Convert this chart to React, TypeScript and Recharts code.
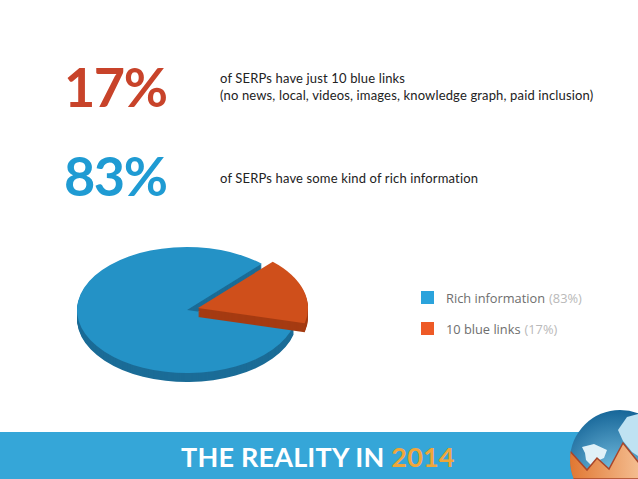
import { PieChart, Pie, Cell, Legend, Sector } from "recharts";

const sliceNames = ["Rich information", "10 blue links"];
const sliceValues = [83, 17];
const sliceColors = ["#2492c6", "#cf4f1b"];
const sideColors = ["#1b6c97", "#a53b12"];
const legendColors = ["#2ba3dc", "#ee5a26"];
const sliceShift = [
  [0, 0],
  [11, -2],
];

const stats = [
  { value: "17%", color: "#c8432a", top: 54, textTop: 70, lines: ["of SERPs have just 10 blue links", "(no news, local, videos, images, knowledge graph, paid inclusion)"] },
  { value: "83%", color: "#1f9bd3", top: 143, textTop: 170, lines: ["of SERPs have some kind of rich information"] },
];

const pieData = sliceNames.map((name, i) => ({ name, value: sliceValues[i] }));

const FONT = "Lato, sans-serif";
const SQUASH = 0.5727;
const DEPTH = 9;

// the pie is tilted by squashing each sector, the side wall is the same sector repeated downwards
function TiltedSector(props: any) {
  const i = sliceNames.indexOf(props.name ?? props.payload?.name);
  const [dx, dy] = sliceShift[i];
  const cy = props.cy;
  const wall = [];
  for (let d = DEPTH; d > 0; d--) {
    wall.push(
      <g key={d} transform={`translate(0 ${d / SQUASH})`}>
        <Sector {...props} fill={sideColors[i]} stroke="none" />
      </g>
    );
  }
  return (
    <g transform={`translate(${dx} ${dy + cy}) scale(1 ${SQUASH}) translate(0 ${-cy})`}>
      {wall}
      <Sector {...props} fill={sliceColors[i]} stroke="none" />
    </g>
  );
}

function ChartLegend({ payload }: any) {
  return (
    <div style={{ fontFamily: "'Open Sans', sans-serif", fontSize: 12.8 }}>
      {(payload ?? []).map((p: any) => {
        const i = sliceNames.indexOf(p.value);
        return (
          <div key={p.value} style={{ display: "flex", alignItems: "center", height: 31 }}>
            <span style={{ width: 13, height: 13, background: legendColors[i], marginRight: 12 }} />
            <span style={{ color: "#6e6e6e" }}>{p.value}</span>
            <span style={{ color: "#b9b9b9", marginLeft: 4 }}>({sliceValues[i]}%)</span>
          </div>
        );
      })}
    </div>
  );
}

function Globe() {
  return (
    <svg width={638} height={479} style={{ position: "absolute", left: 0, top: 0 }}>
      <defs>
        <radialGradient id="sea" cx="0.45" cy="0.65" r="0.7">
          <stop offset="0" stopColor="#7cc4e4" />
          <stop offset="1" stopColor="#0f5f93" />
        </radialGradient>
        <linearGradient id="ground" x1="0" y1="0" x2="1" y2="0">
          <stop offset="0" stopColor="#e0752f" />
          <stop offset="1" stopColor="#f4bd90" />
        </linearGradient>
        <clipPath id="ball">
          <circle cx={620} cy={460} r={50} />
        </clipPath>
      </defs>
      <circle cx={620} cy={460} r={50} fill="url(#sea)" />
      <g clipPath="url(#ball)">
        <path d="M582 447 L594 444 L607 450 L604 458 L597 461 L593 467 L586 460 L585 453 Z" fill="#e0f1f8" />
        <path d="M618 430 L627 417 L638 414 L638 456 L632 452 L623 441 Z" fill="#bfe2f2" />
        <path d="M568 449 L587 470 L597 458 L609 469 L623 443 L639 463 L639 479 L568 479 Z" fill="url(#ground)" stroke="#a8452a" strokeWidth={1.5} />
      </g>
    </svg>
  );
}

export default function App() {
  return (
    <div style={{ position: "absolute", left: 0, top: 0, width: 638, height: 479, background: "#fff", overflow: "hidden", fontFamily: FONT }}>
      {stats.map(s => (
        <div key={s.value}>
          <div style={{ position: "absolute", left: 64, top: s.top, fontSize: 54, lineHeight: "66px", fontWeight: 700, color: s.color, letterSpacing: -1.5 }}>
            {s.value}
          </div>
          <div style={{ position: "absolute", left: 220, top: s.textTop, fontSize: 13, lineHeight: "17px", color: "#222", whiteSpace: "nowrap", letterSpacing: 0.15 }}>
            {s.lines.map(l => (
              <div key={l}>{l}</div>
            ))}
          </div>
        </div>
      ))}

      <PieChart width={638} height={479} margin={{ top: 0, right: 0, bottom: 0, left: 0 }} style={{ position: "absolute", left: 0, top: 0 }}>
        <Pie
          data={pieData}
          dataKey="value"
          nameKey="name"
          cx={187}
          cy={310}
          outerRadius={110}
          startAngle={-14}
          endAngle={-374}
          stroke="none"
          isAnimationActive={false}
          shape={TiltedSector}
        >
          {pieData.map((d, i) => (
            <Cell key={d.name} fill={sliceColors[i]} />
          ))}
        </Pie>
        <Legend
          content={<ChartLegend />}
          layout="vertical"
          itemSorter={null}
          wrapperStyle={{ position: "absolute", left: 421, top: 282, width: 200, bottom: "auto" }}
        />
      </PieChart>

      <div style={{ position: "absolute", left: 0, top: 432, width: 638, height: 47, background: "#35a6d8" }} />
      <div style={{ position: "absolute", left: 181, top: 439, fontSize: 27, lineHeight: "36px", fontWeight: 700, color: "#fff", whiteSpace: "nowrap", letterSpacing: 0.2 }}>
        THE REALITY IN <span style={{ color: "#f0a63a" }}>2014</span>
      </div>
      <Globe />
    </div>
  );
}
